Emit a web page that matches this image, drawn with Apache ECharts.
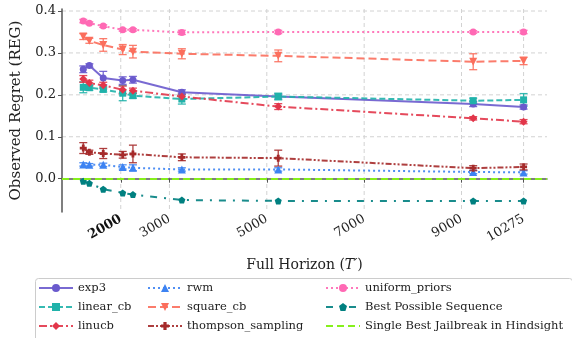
<!DOCTYPE html>
<html>
<head>
<meta charset="utf-8">
<script src="https://cdn.jsdelivr.net/npm/echarts@6/dist/echarts.min.js"></script>
<style>
  html, body { margin: 0; padding: 0; background: #fff; }
  #chart { width: 572px; height: 338px; }
</style>
</head>
<body>
<div id="chart"></div>
<script>
// horizons (T') where each run was evaluated
var horizons = [1230, 1355, 1640, 2040, 2250, 3255, 5235, 9240, 10275];
var xTicks = [2000, 3000, 5000, 7000, 9000, 10275];
var yTicks = [0.0, 0.1, 0.2, 0.3, 0.4];

var exp3 = [0.261, 0.270, 0.240, 0.234, 0.236, 0.206, 0.196, 0.178, 0.171];
var exp3Err = [0.008, 0.004, 0.016, 0.009, 0.008, 0.006, 0.006, 0.006, 0.005];
var linearCb = [0.218, 0.217, 0.213, 0.204, 0.198, 0.190, 0.196, 0.186, 0.188];
var linearCbErr = [0.013, 0.006, 0.006, 0.018, 0.006, 0.012, 0.008, 0.006, 0.015];
var linucb = [0.238, 0.228, 0.223, 0.212, 0.210, 0.196, 0.172, 0.144, 0.136];
var linucbErr = [0.008, 0.007, 0.007, 0.009, 0.006, 0.006, 0.007, 0.004, 0.005];
var rwm = [0.034, 0.033, 0.033, 0.028, 0.026, 0.022, 0.022, 0.016, 0.015];
var rwmErr = [0.004, 0.003, 0.004, 0.005, 0.007, 0.004, 0.004, 0.004, 0.004];
var squareCb = [0.339, 0.329, 0.319, 0.308, 0.303, 0.298, 0.293, 0.279, 0.281];
var squareCbErr = [0.007, 0.006, 0.015, 0.012, 0.015, 0.012, 0.014, 0.019, 0.009];
var thompson = [0.073, 0.063, 0.060, 0.057, 0.059, 0.051, 0.049, 0.025, 0.028];
var thompsonErr = [0.013, 0.005, 0.012, 0.008, 0.021, 0.008, 0.019, 0.006, 0.007];
var uniform = [0.376, 0.371, 0.364, 0.355, 0.355, 0.349, 0.350, 0.350, 0.350];
var uniformErr = [0.004, 0.003, 0.003, 0.003, 0.003, 0.005, 0.004, 0.003, 0.004];
var bestSeq = [-0.006, -0.011, -0.025, -0.034, -0.038, -0.051, -0.053, -0.053, -0.053];
var singleBest = 0.0;

var FONT = '"DejaVu Serif", serif';

var chart = echarts.init(document.getElementById('chart'));

function pairs(ys) {
    return horizons.map(function(x, i) { return [x, ys[i]]; });
}
function triples(ys, es) {
    return horizons.map(function(x, i) { return [x, ys[i], es[i]]; });
}

function errItem(params, api) {
    var x = api.value(0), y = api.value(1), e = api.value(2);
    var hi = api.coord([x, y + e]);
    var lo = api.coord([x, y - e]);
    var c = api.visual('color');
    var w = 4;
    var st = { stroke: c, lineWidth: 1.3, opacity: 0.9 };
    return {
        type: 'group',
        children: [
            { type: 'line', shape: { x1: hi[0], y1: hi[1], x2: lo[0], y2: lo[1] }, style: st },
            { type: 'line', shape: { x1: hi[0] - w, y1: hi[1], x2: hi[0] + w, y2: hi[1] }, style: st },
            { type: 'line', shape: { x1: lo[0] - w, y1: lo[1], x2: lo[0] + w, y2: lo[1] }, style: st }
        ]
    };
}

// dashed grid lines at the tick values
var gridStroke = { stroke: '#d2d2d2', lineWidth: 1, lineDash: [4, 3] };
function vGrid(params, api) {
    var cs = params.coordSys;
    var p = api.coord([api.value(0), 0]);
    return { type: 'line', shape: { x1: p[0], y1: cs.y, x2: p[0], y2: cs.y + cs.height }, style: gridStroke };
}
function hGrid(params, api) {
    var cs = params.coordSys;
    var p = api.coord([xTicks[0], api.value(0)]);
    return { type: 'line', shape: { x1: cs.x, y1: p[1], x2: cs.x + cs.width, y2: p[1] }, style: gridStroke };
}

function lineSeries(name, ys, color, dash, symbol, size, rot) {
    return {
        name: name,
        type: 'line',
        data: pairs(ys),
        symbol: symbol,
        symbolSize: size,
        symbolRotate: rot || 0,
        showSymbol: true,
        itemStyle: { color: color },
        lineStyle: { color: color, width: 2, type: dash, opacity: 0.9 },
        z: 3
    };
}

function errSeries(name, ys, es, color) {
    return {
        name: name + '_err',
        type: 'custom',
        data: triples(ys, es),
        encode: { x: 0, y: 1 },
        itemStyle: { color: color },
        renderItem: errItem,
        z: 2
    };
}

var plusPath = 'path://M3,0H7V3H10V7H7V10H3V7H0V3H3Z';
var pentaPath = 'path://M5,0L10,3.8L8.1,10H1.9L0,3.8Z';

var C = {
    exp3: '#6a5acd',
    linear: '#20b2aa',
    linucb: '#e2364a',
    rwm: '#3d83f2',
    square: '#fb6e5c',
    thompson: '#a52a2a',
    uniform: '#ff69b4',
    best: '#008080',
    single: '#86f01c'
};

var series = [
    {
        name: '_vgrid',
        type: 'custom',
        data: xTicks.map(function(v) { return [v]; }),
        encode: { x: 0 },
        renderItem: vGrid,
        silent: true,
        z: 0
    },
    {
        name: '_hgrid',
        type: 'custom',
        data: yTicks.slice(1).map(function(v) { return [v]; }),
        encode: { y: 0 },
        renderItem: hGrid,
        silent: true,
        z: 0
    },
    lineSeries('exp3', exp3, C.exp3, 'solid', 'circle', 7),
    lineSeries('linear_cb', linearCb, C.linear, [6, 3], 'rect', 7),
    lineSeries('linucb', linucb, C.linucb, [8, 3, 2, 3], 'diamond', 8),
    lineSeries('rwm', rwm, C.rwm, [2, 3], 'triangle', 8),
    lineSeries('square_cb', squareCb, C.square, [8, 4], 'triangle', 8, 180),
    lineSeries('thompson_sampling', thompson, C.thompson, [6, 2, 2, 2, 2, 2], plusPath, 7),
    lineSeries('uniform_priors', uniform, C.uniform, [2, 3], 'circle', 7),
    lineSeries('Best Possible Sequence', bestSeq, C.best, [7, 7, 2, 7], pentaPath, 7),
    {
        name: 'Single Best Jailbreak in Hindsight',
        type: 'line',
        data: [],
        symbol: 'none',
        itemStyle: { color: C.single },
        lineStyle: { color: C.single, width: 2, type: [7, 4] },
        markLine: {
            silent: true,
            symbol: 'none',
            label: { show: false },
            lineStyle: { color: C.single, width: 2, type: [7, 4] },
            data: [{ yAxis: singleBest }]
        },
        z: 2
    },
    errSeries('exp3', exp3, exp3Err, C.exp3),
    errSeries('linear_cb', linearCb, linearCbErr, C.linear),
    errSeries('linucb', linucb, linucbErr, C.linucb),
    errSeries('rwm', rwm, rwmErr, C.rwm),
    errSeries('square_cb', squareCb, squareCbErr, C.square),
    errSeries('thompson_sampling', thompson, thompsonErr, C.thompson),
    errSeries('uniform_priors', uniform, uniformErr, C.uniform)
];

function legendCol(left, names) {
    return {
        orient: 'vertical',
        left: left,
        top: 281,
        height: 60,
        padding: 0,
        itemWidth: 34,
        itemHeight: 10,
        itemGap: 5,
        data: names,
        selectedMode: false,
        textStyle: { fontFamily: FONT, fontSize: 11.5, lineHeight: 14, color: '#222' }
    };
}

var option = {
    animation: false,
    backgroundColor: '#fff',
    grid: { left: 62, right: 25, top: 9, bottom: 126, containLabel: false, outerBoundsMode: 'none' },
    xAxis: {
        type: 'value',
        min: 793,
        max: 10756,
        name: 'Full Horizon ({i|T′})',
        nameLocation: 'middle',
        nameGap: 46,
        nameTextStyle: {
            fontFamily: FONT, fontSize: 14, color: '#222',
            rich: { i: { fontFamily: FONT, fontSize: 14, fontStyle: 'italic', color: '#222' } }
        },
        splitLine: { show: false },
        axisLine: { lineStyle: { color: '#555', width: 1.5 } },
        axisTick: { customValues: xTicks, length: 4, lineStyle: { color: '#555' } },
        axisLabel: {
            customValues: xTicks,
            rotate: 30,
            fontFamily: FONT,
            fontSize: 13,
            color: '#222',
            margin: 6,
            formatter: function(v) { return v === 2000 ? '{b|' + v + '}' : String(v); },
            rich: { b: { fontFamily: FONT, fontSize: 13, fontWeight: 'bold', color: '#111' } }
        }
    },
    yAxis: {
        type: 'value',
        min: -0.0795,
        max: 0.4048,
        name: 'Observed Regret (REG)',
        nameLocation: 'middle',
        nameGap: 38,
        nameTextStyle: { fontFamily: FONT, fontSize: 15, color: '#222' },
        splitLine: { show: false },
        axisLine: { show: true, lineStyle: { color: '#555', width: 1.5 } },
        axisTick: { show: true, customValues: yTicks, length: 4, lineStyle: { color: '#555' } },
        axisLabel: {
            customValues: yTicks,
            fontFamily: FONT,
            fontSize: 13,
            color: '#222',
            margin: 6,
            formatter: function(v) { return v.toFixed(1); }
        }
    },
    legend: [
        legendCol(38, ['exp3', 'linear_cb', 'linucb']),
        legendCol(147, ['rwm', 'square_cb', 'thompson_sampling']),
        legendCol(325, ['uniform_priors', 'Best Possible Sequence',
            { name: 'Single Best Jailbreak in Hindsight', itemStyle: { opacity: 0 } }])
    ],
    graphic: [{
        type: 'rect',
        left: 33,
        top: 276,
        shape: { width: 537, height: 70, r: 3 },
        style: { fill: 'none', stroke: '#cccccc', lineWidth: 1 },
        silent: true,
        z: -1
    }],
    series: series
};

chart.setOption(option);
</script>
</body>
</html>
